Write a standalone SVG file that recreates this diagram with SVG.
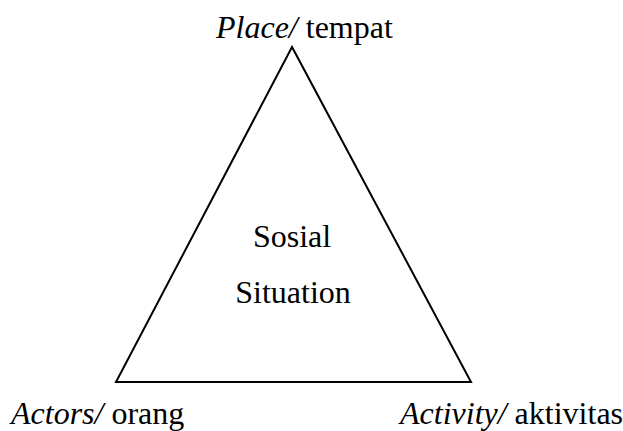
<svg xmlns="http://www.w3.org/2000/svg" width="623" height="431" viewBox="0 0 623 431">
  <style>
    .lbl { font-family: 'Liberation Serif', 'DejaVu Serif', 'Times New Roman', serif; font-size: 32px; fill: #000; }
    .it { font-style: italic; }
    .edge { fill: none; stroke: #000; stroke-width: 2; stroke-linejoin: miter; }
  </style>
  <rect width="623" height="431" fill="#fff"/>
  <g id="connectors">
    <polygon class="edge" points="292,47 116,382 471,382"/>
  </g>
  <g id="place">
    <text class="lbl" x="216" y="38"><tspan class="it">Place/</tspan> tempat</text>
  </g>
  <g id="actors">
    <text class="lbl" x="11" y="424"><tspan class="it">Actors/</tspan> orang</text>
  </g>
  <g id="activity">
    <text class="lbl" x="400" y="424"><tspan class="it">Activity/</tspan> aktivitas</text>
  </g>
  <g id="center">
    <text class="lbl" x="292" y="247" text-anchor="middle">Sosial</text>
    <text class="lbl" x="293" y="303" text-anchor="middle">Situation</text>
  </g>
</svg>
